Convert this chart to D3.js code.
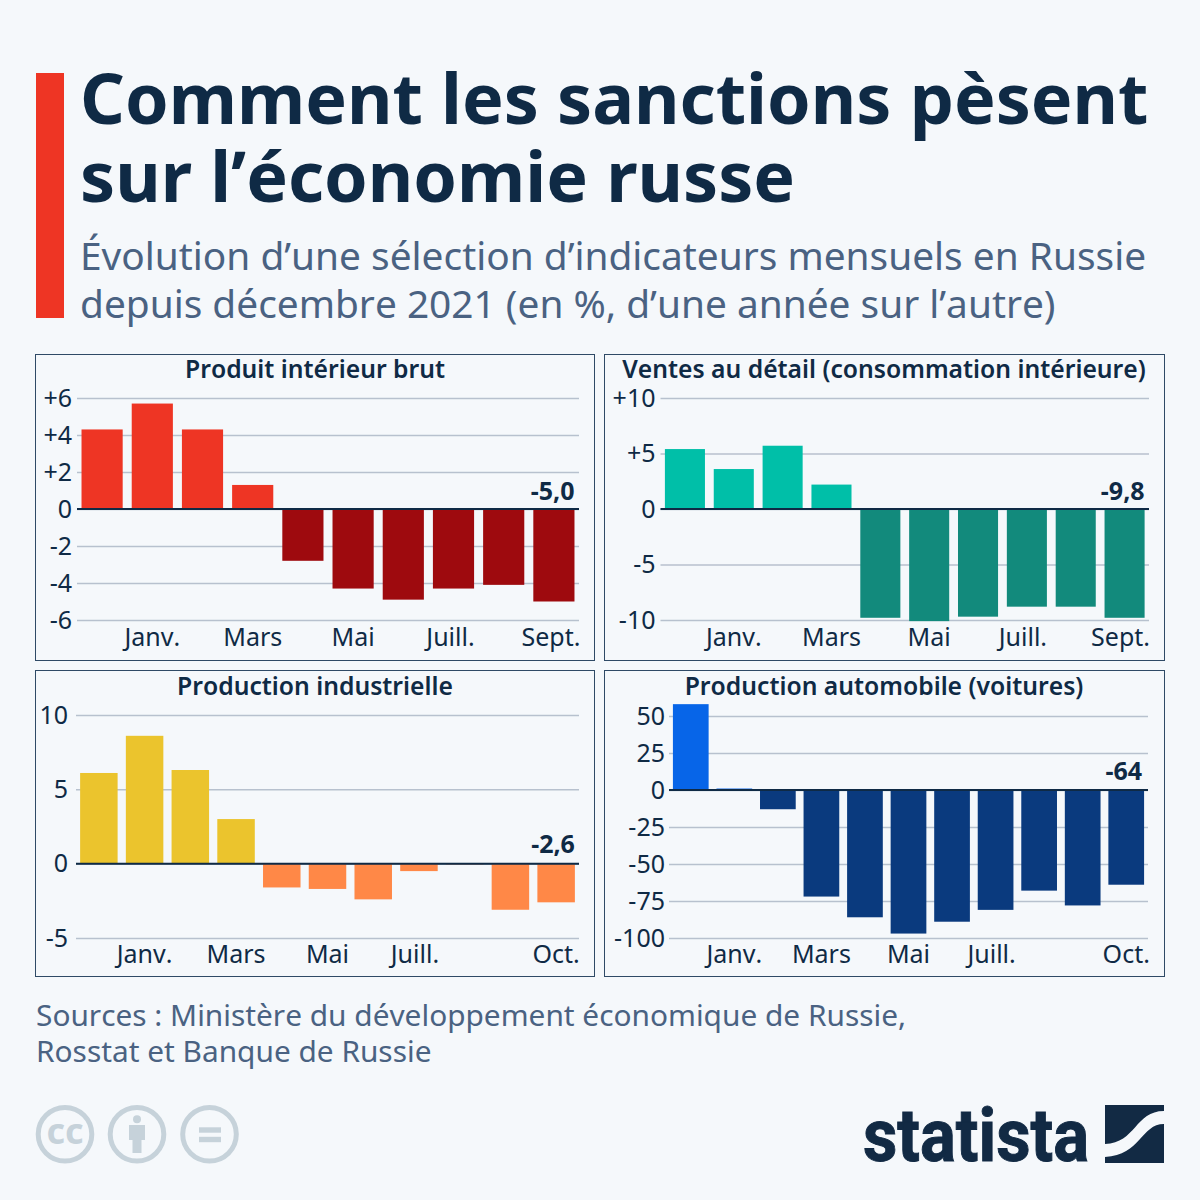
<!DOCTYPE html>
<html lang="fr">
<head>
<meta charset="utf-8">
<script src="https://cdn.jsdelivr.net/npm/d3@7"></script>
<style>
  html, body { margin: 0; padding: 0; background: #f5f8fb; }
  svg { display: block; }
  text { font-family: "Noto Sans", "Open Sans", sans-serif; font-kerning: none; }
</style>
</head>
<body>
<div id="chart"></div>
<script>
// Data
var monthsTen = ["Déc.", "Janv.", "Févr.", "Mars", "Avril", "Mai", "Juin", "Juill.", "Août", "Sept."];
var monthsEleven = ["Déc.", "Janv.", "Févr.", "Mars", "Avril", "Mai", "Juin", "Juill.", "Août", "Sept.", "Oct."];

var gdpValues = [4.3, 5.7, 4.3, 1.3, -2.8, -4.3, -4.9, -4.3, -4.1, -5.0];
var retailValues = [5.4, 3.6, 5.7, 2.2, -9.8, -10.1, -9.7, -8.8, -8.8, -9.8];
var industryValues = [6.1, 8.6, 6.3, 3.0, -1.6, -1.7, -2.4, -0.5, -0.05, -3.1, -2.6];
var carValues = [58, 1, -13, -72, -86, -97, -89, -81, -68, -78, -64];

var gdpTicks = [6, 4, 2, 0, -2, -4, -6];
var retailTicks = [10, 5, 0, -5, -10];
var industryTicks = [10, 5, 0, -5];
var carTicks = [50, 25, 0, -25, -50, -75, -100];

var tenMonthLabels = ["Janv.", "Mars", "Mai", "Juill.", "Sept."];
var elevenMonthLabels = ["Janv.", "Mars", "Mai", "Juill.", "Oct."];

var width = 1200;
var height = 1200;
var ink = "#0f2a45";
var slate = "#4a6282";

var svg = d3
  .select("#chart")
  .append("svg")
  .attr("width", width)
  .attr("height", height);

svg.append("rect").attr("width", width).attr("height", height).attr("fill", "#f5f8fb");

// Header
svg.append("rect").attr("x", 36).attr("y", 73).attr("width", 28).attr("height", 245).attr("fill", "#ee3524");

function addLine(str, x, y, size, weight, color) {
  return svg
    .append("text")
    .attr("x", x)
    .attr("y", y)
    .attr("font-size", size)
    .attr("font-weight", weight)
    .attr("fill", color)
    .text(str);
}

addLine("Comment les sanctions pèsent", 80, 124, 70, 700, ink);
addLine("sur l’économie russe", 80, 202, 70, 700, ink);
addLine("Évolution d’une sélection d’indicateurs mensuels en Russie", 80, 270, 38.85, 400, slate);
addLine("depuis décembre 2021 (en %, d’une année sur l’autre)", 80, 318, 38.85, 400, slate);

addLine("Sources : Ministère du développement économique de Russie,", 36, 1026, 29.83, 400, slate);
addLine("Rosstat et Banque de Russie", 36, 1062, 29.83, 400, slate);

// One small-multiple panel
function drawPanel(p) {
  var g = svg.append("g");

  g.append("rect")
    .attr("x", p.box[0] + 0.5)
    .attr("y", p.box[1] + 0.5)
    .attr("width", p.box[2] - p.box[0])
    .attr("height", p.box[3] - p.box[1])
    .attr("fill", "none")
    .attr("stroke", "#2f4a66")
    .attr("stroke-width", 1);

  g.append("text")
    .attr("x", p.titleX)
    .attr("y", p.box[1] + p.titleDy)
    .attr("text-anchor", "middle")
    .attr("font-size", 24.7)
    .attr("font-weight", 600)
    .attr("fill", ink)
    .text(p.title);

  var x = d3
    .scaleBand()
    .domain(p.months)
    .range([p.x0, p.x1])
    .paddingInner(p.pad)
    .paddingOuter(p.pad / 2);

  var y = d3.scaleLinear().domain(p.domain).range(p.yRange);

  // y axis doubles as the grid
  var yAxis = d3
    .axisLeft(y)
    .tickValues(p.ticks)
    .tickSize(p.x1 - p.x0)
    .tickPadding(p.tickPad)
    .tickFormat(p.fmt);

  var yG = g
    .append("g")
    .attr("transform", "translate(" + p.x1 + ",0)")
    .call(yAxis);
  yG.select(".domain").remove();
  yG.selectAll("line").attr("stroke", "#b7c1ce").attr("stroke-width", 1.5);
  yG.selectAll("text")
    .attr("font-size", 25)
    .attr("font-family", '"Noto Sans", sans-serif')
    .attr("fill", ink);

  g.selectAll("rect.bar")
    .data(p.values)
    .enter()
    .append("rect")
    .attr("class", "bar")
    .attr("x", function (d, i) { return x(p.months[i]); })
    .attr("y", function (d) { return d > 0 ? y(d) : y(0); })
    .attr("width", x.bandwidth())
    .attr("height", function (d) { return Math.abs(y(d) - y(0)); })
    .attr("fill", function (d) { return d > 0 ? p.up : p.down; });

  // zero line on top of the bars
  g.append("line")
    .attr("x1", p.x0)
    .attr("x2", p.x1)
    .attr("y1", y(0))
    .attr("y2", y(0))
    .attr("stroke", ink)
    .attr("stroke-width", 2);

  // month labels, last ones nudged so they stay inside the plot
  var xAxis = d3.axisBottom(x).tickValues(p.labels).tickSize(0).tickPadding(0);
  var xG = g
    .append("g")
    .attr("transform", "translate(0," + (p.box[3] - 34) + ")")
    .call(xAxis);
  xG.select(".domain").remove();
  xG.selectAll("text")
    .attr("font-size", 25)
    .attr("font-family", '"Noto Sans", sans-serif')
    .attr("fill", ink)
    .attr("y", p.labelDy)
    .attr("dy", 0)
    .attr("dx", function (d) { return p.nudge[d] || 0; });

  // callout for the latest value
  var last = p.values.length - 1;
  g.append("text")
    .attr("x", x(p.months[last]) + x.bandwidth() - p.calloutInset)
    .attr("y", y(0) - p.calloutGap)
    .attr("text-anchor", "end")
    .attr("font-size", 25)
    .attr("font-weight", 700)
    .attr("fill", ink)
    .text(p.callout);
}

function signedTick(d) {
  return d > 0 ? "+" + d : String(d);
}

drawPanel({
  title: "Produit intérieur brut", titleX: 315, titleDy: 23.5, labelDy: 20,
  box: [35, 354, 594, 660],
  months: monthsTen, values: gdpValues, ticks: gdpTicks, labels: tenMonthLabels,
  domain: [-6, 6], yRange: [620, 398],
  x0: 77, x1: 579, pad: 0.18, tickPad: 5,
  up: "#ee3524", down: "#9e0a0e",
  fmt: signedTick, callout: "-5,0", calloutGap: 9, calloutInset: 0,
  nudge: { "Juill.": -3, "Sept.": -3 }
});

drawPanel({
  title: "Ventes au détail (consommation intérieure)", titleX: 884, titleDy: 23.5, labelDy: 20,
  box: [604, 354, 1164, 660],
  months: monthsTen, values: retailValues, ticks: retailTicks, labels: tenMonthLabels,
  domain: [-10, 10], yRange: [620, 398],
  x0: 660.5, x1: 1149, pad: 0.18, tickPad: 5,
  up: "#00bfa8", down: "#128a7c",
  fmt: signedTick, callout: "-9,8", calloutGap: 9, calloutInset: 0,
  nudge: { "Juill.": -4, "Sept.": -4 }
});

drawPanel({
  title: "Production industrielle", titleX: 315, titleDy: 24.5, labelDy: 21,
  box: [35, 670, 594, 976],
  months: monthsEleven, values: industryValues, ticks: industryTicks, labels: elevenMonthLabels,
  domain: [-5, 10], yRange: [938, 715],
  x0: 76, x1: 579, pad: 0.18, tickPad: 8,
  up: "#ebc42d", down: "#ff8847",
  fmt: String, callout: "-2,6", calloutGap: 11, calloutInset: 0,
  nudge: { "Juill.": -4 }
});

drawPanel({
  title: "Production automobile (voitures)", titleX: 884, titleDy: 24.5, labelDy: 21,
  box: [604, 670, 1164, 976],
  months: monthsEleven, values: carValues, ticks: carTicks, labels: elevenMonthLabels,
  domain: [-100, 50], yRange: [938, 716],
  x0: 669, x1: 1148, pad: 0.18, tickPad: 4,
  up: "#0765e8", down: "#0a3a7e",
  fmt: String, callout: "-64", calloutGap: 10, calloutInset: 2,
  nudge: { "Juill.": -4 }
});

// Licence badges
var badge = "#c6d2da";
[65, 137, 209.5].forEach(function (cx) {
  svg.append("circle")
    .attr("cx", cx).attr("cy", 1134.3).attr("r", 26.8)
    .attr("fill", "none").attr("stroke", badge).attr("stroke-width", 5);
});
svg.append("text")
  .attr("x", 65).attr("y", 1144)
  .attr("text-anchor", "middle")
  .attr("font-size", 36).attr("font-weight", 700)
  .attr("fill", badge)
  .text("cc");
svg.append("circle").attr("cx", 137).attr("cy", 1119.3).attr("r", 4).attr("fill", badge);
svg.append("path")
  .attr("d", "M129 1125H145V1140H141.5V1153H132.5V1140H129Z")
  .attr("fill", badge);
svg.append("rect").attr("x", 199).attr("y", 1127.3).attr("width", 22).attr("height", 5.4).attr("fill", badge);
svg.append("rect").attr("x", 199).attr("y", 1136.8).attr("width", 22).attr("height", 5.4).attr("fill", badge);

// Statista wordmark and logo
svg.append("text")
  .attr("x", 863).attr("y", 1161)
  .attr("font-size", 74).attr("font-weight", 700)
  .attr("style", 'font-family:"Liberation Sans Narrow","Roboto",sans-serif')
  .attr("textLength", 226).attr("lengthAdjust", "spacingAndGlyphs")
  .attr("fill", "#122a44")
  .attr("stroke", "#122a44")
  .attr("stroke-width", 1)
  .text("statista");
svg.append("path")
  .attr("d", "M1105 1105H1164V1111C1135 1111 1136 1143 1105 1144Z")
  .attr("fill", "#122a44");
svg.append("path")
  .attr("d", "M1164 1124C1141 1124 1141 1155 1105 1157V1163H1164Z")
  .attr("fill", "#122a44");
</script>
</body>
</html>
